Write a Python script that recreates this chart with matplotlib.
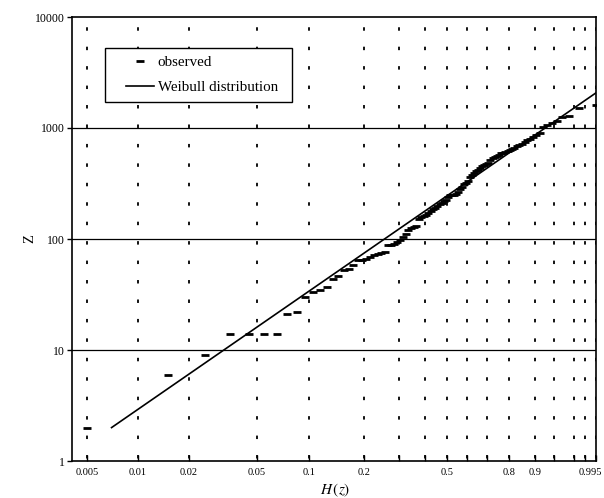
import numpy as np
import matplotlib
matplotlib.use('Agg')
import matplotlib.pyplot as plt
from matplotlib.ticker import FixedLocator, FixedFormatter, NullFormatter
from matplotlib.legend_handler import HandlerLine2D
from matplotlib.transforms import ScaledTranslation

plt.rcParams['font.family'] = ['Liberation Serif', 'DejaVu Serif']
plt.rcParams['mathtext.fontset'] = 'stix'
plt.rcParams['lines.scale_dashes'] = False

# ---------------- data ----------------
observed_H = [
    0.005, 0.015, 0.025, 0.035, 0.045, 0.055, 0.065, 0.075, 0.085, 0.095,
    0.105, 0.115, 0.125, 0.135, 0.145, 0.155, 0.165, 0.175, 0.185, 0.195,
    0.205, 0.215, 0.225, 0.235, 0.245, 0.255, 0.265, 0.275, 0.285, 0.295,
    0.305, 0.315, 0.325, 0.335, 0.345, 0.355, 0.365, 0.375, 0.385, 0.395,
    0.405, 0.415, 0.425, 0.435, 0.445, 0.455, 0.465, 0.475, 0.485, 0.495,
    0.505, 0.515, 0.525, 0.535, 0.545, 0.555, 0.565, 0.575, 0.585, 0.595,
    0.605, 0.615, 0.625, 0.635, 0.645, 0.655, 0.665, 0.675, 0.685, 0.695,
    0.705, 0.715, 0.725, 0.735, 0.745, 0.755, 0.765, 0.775, 0.785, 0.795,
    0.805, 0.815, 0.825, 0.835, 0.845, 0.855, 0.865, 0.875, 0.885, 0.895,
    0.905, 0.915, 0.925, 0.935, 0.945, 0.955, 0.965, 0.975, 0.985, 0.995,
]
observed_z = [
    2, 6, 9, 14, 14, 14, 14, 21, 22, 30,
    33, 35, 37, 44, 46, 53, 54, 58, 65, 65,
    66, 69, 72, 73, 75, 76, 88, 89, 90, 94,
    98, 104, 112, 120, 126, 128, 130, 150, 158, 162,
    166, 170, 178, 185, 192, 198, 205, 212, 218, 224,
    240, 250, 250, 250, 252, 265, 280, 295, 310, 320,
    335, 360, 380, 395, 410, 420, 440, 455, 465, 475,
    485, 520, 540, 550, 560, 575, 590, 600, 610, 620,
    632, 650, 665, 685, 705, 725, 750, 775, 800, 830,
    860, 900, 1020, 1060, 1110, 1150, 1260, 1280, 1500, 1600,
]
weibull_H = [0.0070, 0.995]
weibull_z = [2.0, 2065.0]

x_major = [0.005, 0.01, 0.02, 0.05, 0.1, 0.2, 0.5, 0.8, 0.9, 0.995]
x_major_labels = ['0.005', '0.01', '0.02', '0.05', '0.1', '0.2', '0.5', '0.8', '0.9', '0.995']
x_minor = [0.3, 0.4, 0.6, 0.7, 0.95, 0.98, 0.99]
y_ticks = [1, 10, 100, 1000, 10000]
y_tick_labels = ['1', '10', '100', '1000', '10000']
y_grid = [10, 100, 1000]


# Weibull probability scale: ln(-ln(1-H))
def fwd(h):
    h = np.asarray(h, dtype=float)
    with np.errstate(all='ignore'):
        return np.log(-np.log1p(-h))


def inv(t):
    t = np.asarray(t, dtype=float)
    with np.errstate(all='ignore'):
        return -np.expm1(-np.exp(t))


fig = plt.figure(figsize=(6.04, 4.98), dpi=100)
ax = fig.add_axes([72 / 604, 37 / 498, 524 / 604, 444 / 498])
ax.set_yscale('log')
ax.set_xscale('function', functions=(fwd, inv))
ax.set_xlim(0.00408, 0.9951)
ax.set_ylim(1, 10000)

# grid
for xv in x_major + x_minor:
    ax.axvline(xv, color='black', lw=1.3, ls=(12.2, (2.5, 11.5)), zorder=1)
for yv in y_grid:
    ax.axhline(yv, color='black', lw=0.9, zorder=1)

obs, = ax.plot(observed_H, observed_z, ls='none', marker='_', ms=5.5, mew=2.0,
               color='black', zorder=3)
wb, = ax.plot(weibull_H, weibull_z, color='black', lw=1.2, zorder=2)

ax.xaxis.set_major_locator(FixedLocator(x_major))
ax.xaxis.set_major_formatter(FixedFormatter(x_major_labels))
ax.xaxis.set_minor_locator(FixedLocator(x_minor))
ax.xaxis.set_minor_formatter(NullFormatter())
ax.yaxis.set_major_locator(FixedLocator(y_ticks))
ax.yaxis.set_major_formatter(FixedFormatter(y_tick_labels))
ax.yaxis.set_minor_locator(FixedLocator([]))

ax.tick_params(axis='x', which='both', direction='in', length=4, width=1,
               labelsize=7.5, pad=5, colors='black')
ax.tick_params(axis='y', which='major', direction='out', length=3.5, width=1,
               labelsize=8.5, pad=1.5, colors='black')
for s in ax.spines.values():
    s.set_linewidth(1.2)
    s.set_color('black')

# nudge the last x tick label slightly left so it stays inside the figure
last_lbl = ax.get_xticklabels()[-1]
last_lbl.set_transform(last_lbl.get_transform() +
                       ScaledTranslation(-5 / 100, 0, fig.dpi_scale_trans))

ax.set_xlabel(r'$H\,(z)$', fontsize=11)
ax.xaxis.label.set_va('center')
ax.xaxis.set_label_coords(0.502, -(490 - 461) / 444)
ax.set_ylabel('Z', fontsize=10.5)
ax.yaxis.label.set_va('center')
ax.yaxis.set_label_coords((30 - 72) / 524, 0.5)

hmap = {obs: HandlerLine2D(xpad=0.9), wb: HandlerLine2D(xpad=0.9)}
leg = ax.legend([obs, wb], ['observed', 'Weibull distribution'],
                handler_map=hmap, mode='expand',
                loc='upper left', bbox_to_anchor=(0.063, 0.5, 0.357, 0.4302),
                borderaxespad=0, fontsize=10.8, frameon=True, fancybox=False,
                edgecolor='black', framealpha=1, handlelength=2.75,
                handletextpad=0.26, borderpad=0.5, labelspacing=0.8)
leg.get_frame().set_linewidth(1.0)

fig.savefig('out.png', dpi=100)
